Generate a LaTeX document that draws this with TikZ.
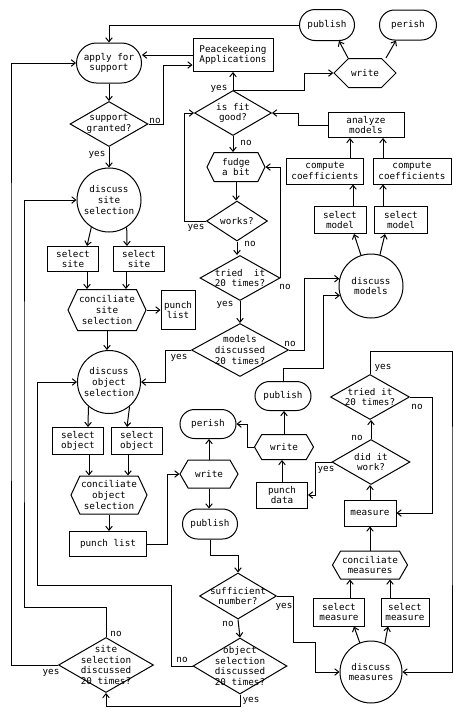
\documentclass[tikz,border=0pt]{standalone}
\usepackage{fontspec}
\setmonofont{DejaVu Sans Mono}
\usetikzlibrary{shapes.geometric,shapes.misc,shapes.symbols,arrows.meta,calc}
\tikzset{
  base/.style={draw, line width=1pt},
  term/.style={base, rounded rectangle, inner sep=0pt},
  box/.style={base, rectangle, inner sep=0pt},
  hexa/.style={base, signal, signal to=east and west, signal pointer angle=120, inner sep=0pt, label={center:{#1}}},
  dia/.style={base, diamond, inner sep=0pt, label={center:{#1}}},
  circ/.style={base, circle, inner sep=0pt},
  arr/.style={-{Straight Barb[length=4pt,width=6.5pt]}, line width=1pt},
  lab/.style={inner sep=0pt}
}
\begin{document}
\begin{tikzpicture}[x=1pt,y=-1pt, every node/.style={font=\ttfamily\fontsize{9.3}{10.8}\selectfont, align=center}]
\path[use as bounding box, fill=white] (0,0) rectangle (462,716);

% nodes
\node[term, minimum width=65, minimum height=40] (ap) at (109,63) {apply for\\support};
\node[dia={support\\granted?}, minimum width=78, minimum height=45] (sg) at (109,124) {};
\node[box, minimum width=80, minimum height=33] (pk) at (233,55) {Peacekeeping\\Applications};
\node[term, minimum width=55, minimum height=31] (pub1) at (327,25) {publish};
\node[term, minimum width=57, minimum height=30] (per1) at (408,25) {perish};
\node[hexa={write}, minimum width=62, minimum height=29, signal pointer angle=90] (wr1) at (365,73) {};
\node[dia={is fit\\good?}, minimum width=77, minimum height=45] (fit) at (233,113) {};
\node[box, minimum width=76, minimum height=25] (an) at (366,125) {analyze\\models};
\node[hexa={fudge\\a bit}, minimum width=58, minimum height=29, signal pointer angle=128] (fud) at (236,167) {};
\node[box, minimum width=77, minimum height=26] (cc1) at (325,171) {compute\\coefficients};
\node[box, minimum width=78, minimum height=26] (cc2) at (412,171) {compute\\coefficients};
\node[dia={works?}, minimum width=61, minimum height=40] (wk) at (237,221) {};
\node[box, minimum width=52, minimum height=27] (sm1) at (340,220) {select\\model};
\node[box, minimum width=53, minimum height=27] (sm2) at (401,220) {select\\model};
\node[dia={tried\ \ it\\20 times?}, minimum width=80, minimum height=45] (tr1) at (240,278) {};
\node[circ, minimum size=64] (dm) at (371,286) {discuss\\models};
\node[circ, minimum size=64] (dss) at (109,200) {discuss\\site\\selection};
\node[box, minimum width=51, minimum height=25] (ss1) at (73,259) {select\\site};
\node[box, minimum width=51, minimum height=25] (ss2) at (139,259) {select\\site};
\node[hexa={conciliate\\site\\selection}, minimum width=78, minimum height=41, signal pointer angle=130] (css) at (107,310) {};
\node[box, minimum width=34, minimum height=39] (pl1) at (178,310) {punch\\list};
\node[dia={models\\discussed\\20 times?}, minimum width=97, minimum height=53] (md) at (240,350) {};
\node[circ, minimum size=63] (dos) at (109,382) {discuss\\object\\selection};
\node[term, minimum width=56, minimum height=29] (pub2) at (283,396) {publish};
\node[dia={tried it\\20 times?}, minimum width=79, minimum height=45] (tr2) at (370,397) {};
\node[term, minimum width=56, minimum height=29] (per2) at (208,424) {perish};
\node[box, minimum width=51, minimum height=27] (so1) at (78,441) {select\\object};
\node[box, minimum width=51, minimum height=27] (so2) at (137,441) {select\\object};
\node[hexa={write}, minimum width=59, minimum height=25] (wr2) at (284,447) {};
\node[dia={did it\\work?}, minimum width=78, minimum height=45] (dw) at (371,462) {};
\node[hexa={write}, minimum width=58, minimum height=28] (wr3) at (209,474) {};
\node[hexa={conciliate\\object\\selection}, minimum width=76, minimum height=38, signal pointer angle=130] (cos) at (109,495) {};
\node[box, minimum width=51, minimum height=26] (pd) at (282,495) {punch\\data};
\node[box, minimum width=52, minimum height=26] (ms) at (370,513) {measure};
\node[term, minimum width=55, minimum height=30] (pub3) at (210,524) {publish};
\node[box, minimum width=77, minimum height=25] (pl2) at (108,544) {punch list};
\node[hexa={conciliate\\measures}, minimum width=75, minimum height=28] (cm) at (370,565) {};
\node[dia={sufficient\\number?}, minimum width=77, minimum height=46] (sn) at (238,596) {};
\node[box, minimum width=51, minimum height=28] (sme1) at (339,612) {select\\measure};
\node[box, minimum width=48, minimum height=28] (sme2) at (405,612) {select\\measure};
\node[dia={object\\selection\\discussed\\20 times?}, minimum width=94, minimum height=56] (osd) at (240,666) {};
\node[dia={site\\selection\\discussed\\20 times?}, minimum width=95, minimum height=55] (ssd) at (106,665) {};
\node[circ, minimum size=62] (dms) at (371,672) {discuss\\measures};

% yes / no labels
\node[lab] (l1) at (155,121) {no};
\node[lab] (l2) at (97,155) {yes};
\node[lab] (l3) at (219,89) {yes};
\node[lab] (l4) at (246,143) {no};
\node[lab] (l5) at (196,228) {yes};
\node[lab] (l6) at (250,244) {no};
\node[lab] (l7) at (285,287) {no};
\node[lab] (l8) at (225,305) {yes};
\node[lab] (l9) at (290,344) {no};
\node[lab] (l10) at (179,358) {yes};
\node[lab] (l11) at (383,368) {yes};
\node[lab] (l12) at (417,407) {no};
\node[lab] (l13) at (357,438) {no};
\node[lab] (l14) at (326,470) {yes};
\node[lab] (l15) at (284,607) {yes};
\node[lab] (l16) at (228,624) {no};
\node[lab] (l17) at (116,634) {no};
\node[lab] (l18) at (51,673) {yes};
\node[lab] (l19) at (182,660) {no};
\node[lab] (l20) at (251,701) {yes};

% connectors - top area
\draw[arr] (pub1.west) -| (ap.north);
\draw[arr] (pk.west) -- (ap.east |- pk.west);
\draw[arr] (sg.east) -- ++(15,0) |- ($(pk.west)+(0,10)$);
\draw[arr] (ap.south) -- (sg.north);
\draw[arr] (sg.south) -- (dss.north);
\draw[arr] (ssd.west) -| (11,300) |- (ap.west);
\draw[arr] (fit.north) -- (pk.south);
\draw[arr] (fit.north) -- ++(71,0) |- (wr1.west);
\draw[arr] ($(wr1.north)+(-17,0)$) -- ($(pub1.south)+(12,0)$);
\draw[arr] ($(wr1.north)+(21,0)$) -- ($(per1.south)+(-12,0)$);
\draw[arr] (an.west) -- ++(-29,0) |- (fit.east);
\draw[arr] ($(cc1.north)+(25,0)$) -- ($(cc1.north |- an.south)+(25,0)$);
\draw[arr] ($(cc2.north)+(-29,0)$) -- ($(cc2.north |- an.south)+(-29,0)$);
\draw[arr] (fit.south) -- (fit.south |- fud.north);
\draw[arr] (fud.south) -- (fud.south |- wk.north);
\draw[arr] (wk.west) -- ++(-22,0) |- (fit.west);
\draw[arr] (wk.south) -- (wk.south |- tr1.north);
\draw[arr] (tr1.east) |- (fud.east);
\draw[arr] (tr1.south) -- (md.north);
\draw[arr] (md.east) -- ++(15,0) |- (dm.167);
\draw[arr] (pub2.north) |- (323,368) |- (dm.197);
\draw[arr] (md.west) -- ++(-26,0) |- (dos.east);
\draw[arr] (dm.108) -- ($(sm1.south)+(14,0)$);
\draw[arr] (dm.74) -- ($(sm2.south)+(-16,0)$);
\draw[arr] ($(sm1.north)+(13,0)$) -- ($(sm1.north |- cc1.south)+(13,0)$);
\draw[arr] ($(sm2.north)+(-18,0)$) -- ($(sm2.north |- cc2.south)+(-18,0)$);

% left column
\draw[arr] (dss.237) -- ($(ss1.north)+(14,0)$);
\draw[arr] (dss.303) -- ($(ss2.north)+(-12,0)$);
\draw[arr] ($(ss1.south)+(14,0)$) -- ($(ss1.south |- css.north)+(14,0)$);
\draw[arr] ($(ss2.south)+(-13,0)$) -- ($(ss2.south |- css.north)+(-13,0)$);
\draw[arr] (css.east) -- (pl1.west);
\draw[arr] (css.south) -- (css.south |- dos.north);
\draw[arr] (ssd.north) -- ++(0,-30) -| (24,400) |- (dss.west);
\draw[arr] (osd.west) -- ++(-21,0) |- (37,585) |- (dos.west);
\draw[arr] (dos.230) -- ($(so1.north)+(10,0)$);
\draw[arr] (dos.310) -- ($(so2.north)+(-10,0)$);
\draw[arr] ($(so1.south)+(11,0)$) -- ($(so1.south |- cos.north)+(11,0)$);
\draw[arr] ($(so2.south)+(-9,0)$) -- ($(so2.south |- cos.north)+(-9,0)$);
\draw[arr] (cos.south) -- (cos.south |- pl2.north);
\draw[arr] (pl2.east) -- ++(20.5,0) |- (wr3.west);
\draw[arr] (wr3.north) -- (wr3.north |- per2.south);
\draw[arr] (wr3.south) -- (wr3.south |- pub3.north);
\draw[arr] (pub3.south) -- ++(0,16) -| (sn.north);

% middle / right
\draw[arr] (wr2.west) -- ++(-6,0) |- (per2.east);
\draw[arr] (wr2.north) -- (wr2.north |- pub2.south);
\draw[arr] (pd.north) -- (pd.north |- wr2.south);
\draw[arr] (dw.west) -- ++(-16,0) |- (pd.east);
\draw[arr] (dw.north) -- (dw.north |- tr2.south);
\draw[arr] (tr2.east) -- ++(22,0) |- (ms.east);
\draw[arr] (tr2.north) -- ++(0,-23) -| (452,500) |- (dms.east);
\draw[arr] (ms.north) -- (ms.north |- dw.south);
\draw[arr] (cm.north) -- (cm.north |- ms.south);
\draw[arr] ($(sme1.north)+(11,0)$) -- ($(sme1.north |- cm.south)+(11,0)$);
\draw[arr] ($(sme2.north)+(-15,0)$) -- ($(sme2.north |- cm.south)+(-15,0)$);
\draw[arr] (dms.111) -- ($(sme1.south)+(15,0)$);
\draw[arr] (dms.64) -- ($(sme2.south)+(-17,0)$);
\draw[arr] (sn.east) -- ++(16,0) |- (315,642) |- (dms.west);
\draw[arr] (sn.south) -- (osd.north);
\draw[arr] (osd.south) -- ++(0,12) -| (ssd.south);
\end{tikzpicture}
\end{document}
